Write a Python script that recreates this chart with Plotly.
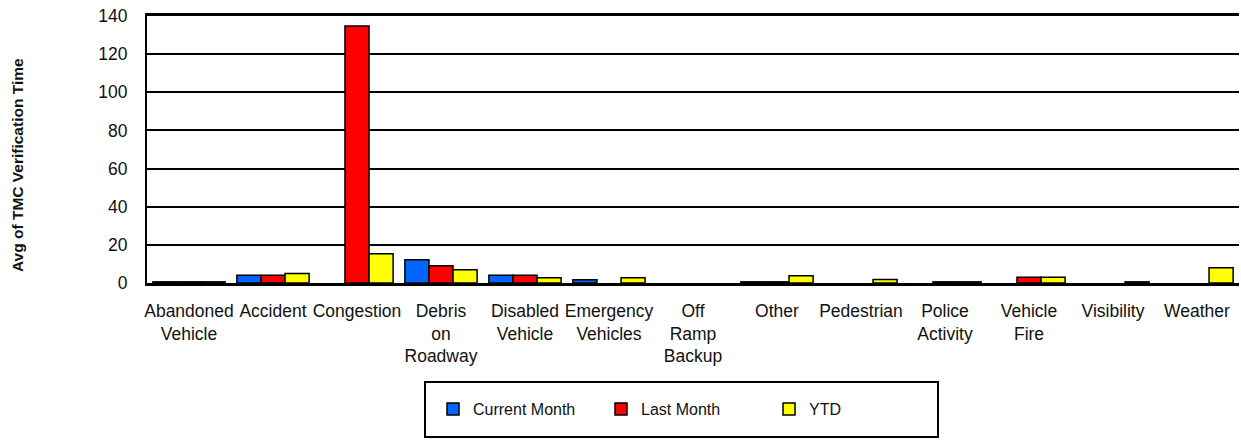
import plotly.graph_objects as go

categories = ["Abandoned<br>Vehicle", "Accident", "Congestion", "Debris<br>on<br>Roadway",
              "Disabled<br>Vehicle", "Emergency<br>Vehicles", "Off<br>Ramp<br>Backup", "Other",
              "Pedestrian", "Police<br>Activity", "Vehicle<br>Fire", "Visibility", "Weather"]
current_month = [0.6, 4.0, None, 12.2, 4.0, 1.7, None, 0.6, None, None, None, None, None]
last_month = [0.6, 4.0, 134.8, 9.1, 4.0, None, None, 0.6, None, 0.6, 3.0, None, None]
ytd = [0.6, 5.0, 15.4, 7.0, 2.8, 2.8, None, 3.8, 1.9, 0.6, 3.0, 0.6, 8.0]
y_ticks = [0, 20, 40, 60, 80, 100, 120, 140]

FONT = "Liberation Sans, Arial, sans-serif"
line = dict(color="black", width=1.5)

fig = go.Figure()
fig.add_trace(go.Bar(name="Current Month", x=categories, y=current_month,
                     marker=dict(color="#0066FF", line=line)))
fig.add_trace(go.Bar(name="Last Month", x=categories, y=last_month,
                     marker=dict(color="#FF0000", line=line)))
fig.add_trace(go.Bar(name="YTD", x=categories, y=ytd,
                     marker=dict(color="#FFFF00", line=line)))

W, H = 1241, 440
PL, PR, PT, PB = 147, 1239, 16, 283          # plot area in page pixels
L, T, R, B = PL, PT, W - PR, H - PB
pw, ph = PR - PL, PB - PT

def px_x(sx):
    return (sx - PL) / pw

def px_y(sy):
    return (PB - sy) / ph

fig.update_layout(
    width=W, height=H,
    margin=dict(l=L, r=R, t=T, b=B, autoexpand=False),
    paper_bgcolor="white", plot_bgcolor="white",
    barmode="group", bargap=0.14, bargroupgap=0,
    font=dict(family=FONT, size=16, color="#111111"),
    showlegend=True,
    legend=dict(orientation="h", x=px_x(433), xanchor="left",
                y=px_y(392), yanchor="top",
                borderwidth=0, bgcolor="rgba(0,0,0,0)",
                entrywidth=123, entrywidthmode="pixels",
                font=dict(family=FONT, size=16), traceorder="normal"),
    shapes=[dict(type="rect", xref="paper", yref="paper",
                 x0=px_x(425), x1=px_x(938), y0=px_y(382), y1=px_y(437),
                 line=dict(color="black", width=2), fillcolor="rgba(0,0,0,0)",
                 layer="below")],
    annotations=[dict(text="<b>Avg of TMC Verification Time</b>", textangle=-90,
                      xref="paper", yref="paper", x=px_x(17), y=px_y(165),
                      xanchor="center", yanchor="middle", showarrow=False,
                      font=dict(family=FONT, size=15.5, color="#111111"))],
)
fig.update_xaxes(showgrid=False, showline=True, linecolor="black", linewidth=2.5,
                 mirror=True, ticks="", tickangle=0, ticklabelstandoff=10,
                 tickfont=dict(family=FONT, size=17.5))
fig.update_yaxes(range=[0, 140], tickvals=y_ticks, showgrid=True, gridcolor="black",
                 gridwidth=2, showline=True, linecolor="black", linewidth=2,
                 zeroline=False, ticks="", ticklabelstandoff=14,
                 ticklabeloverflow="allow",
                 tickfont=dict(family=FONT, size=17.5))

fig.write_html("out.html", config={"displayModeBar": False},
               post_script="document.body.style.margin='0px';")
